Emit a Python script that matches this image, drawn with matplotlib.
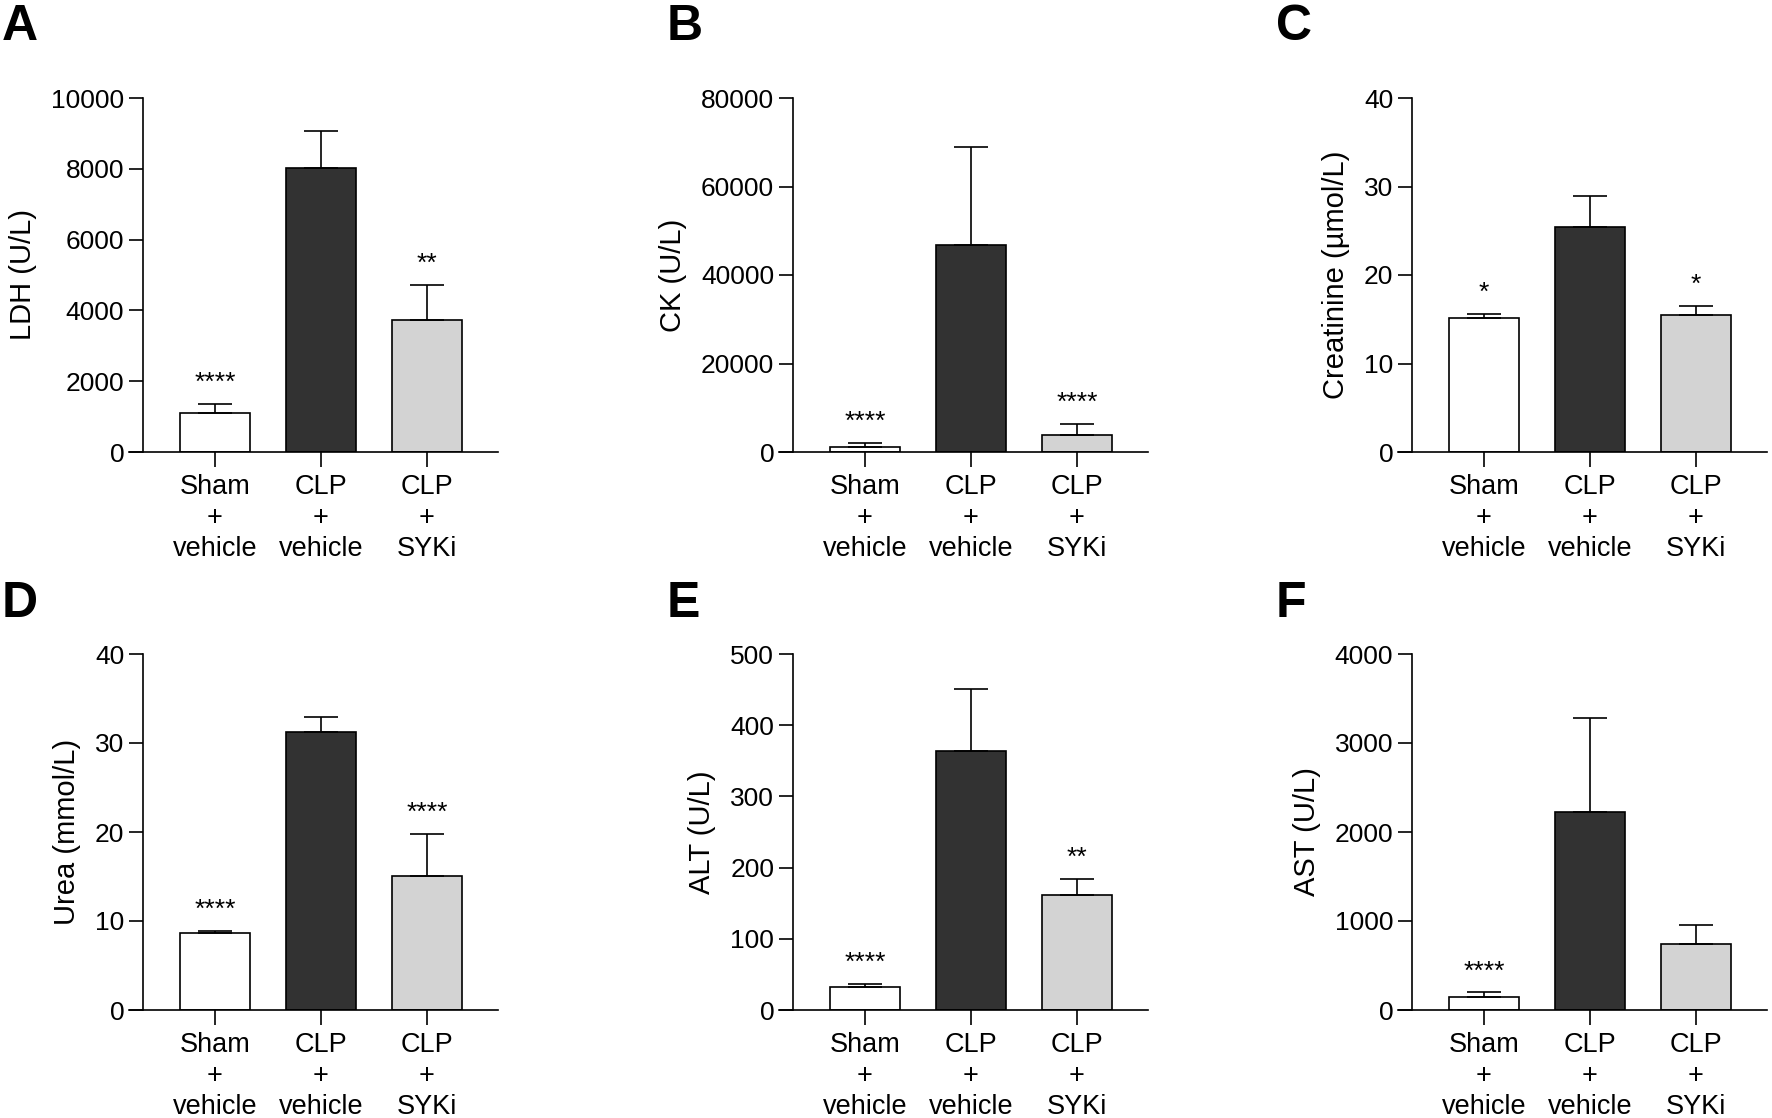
import numpy as np
import matplotlib
matplotlib.use('Agg')
import matplotlib.pyplot as plt

plt.rcParams['font.family'] = ['Liberation Sans', 'DejaVu Sans']

# groups shared by all six panels
groups = ['Sham\n+\nvehicle', 'CLP\n+\nvehicle', 'CLP\n+\nSYKi']
bar_colors = ['white', '#323232', '#d3d3d3']

# A - LDH
ldh_mean = [1090, 8010, 3740]
ldh_sem = [280, 1070, 980]
ldh_stars = ['****', '', '**']

# B - CK
ck_mean = [1200, 46700, 3900]
ck_sem = [900, 22200, 2400]
ck_stars = ['****', '', '****']

# C - creatinine
crea_mean = [15.1, 25.4, 15.5]
crea_sem = [0.5, 3.5, 1.0]
crea_stars = ['*', '', '*']

# D - urea
urea_mean = [8.6, 31.2, 15.1]
urea_sem = [0.3, 1.7, 4.7]
urea_stars = ['****', '', '****']

# E - ALT
alt_mean = [32, 364, 161]
alt_sem = [5, 87, 23]
alt_stars = ['****', '', '**']

# F - AST
ast_mean = [149, 2227, 740]
ast_sem = [48, 1057, 217]
ast_stars = ['****', '', '']

panels = [
    ('A', 'LDH (U/L)', ldh_mean, ldh_sem, ldh_stars, 10000, 2000),
    ('B', 'CK (U/L)', ck_mean, ck_sem, ck_stars, 80000, 20000),
    ('C', 'Creatinine (\u00b5mol/L)', crea_mean, crea_sem, crea_stars, 40, 10),
    ('D', 'Urea (mmol/L)', urea_mean, urea_sem, urea_stars, 40, 10),
    ('E', 'ALT (U/L)', alt_mean, alt_sem, alt_stars, 500, 100),
    ('F', 'AST (U/L)', ast_mean, ast_sem, ast_stars, 4000, 1000),
]

# layout in pixels
W, H = 1772, 1118
col_axis_px = [143, 793, 1412]
row_top_px = [98, 654]
row_zero_px = [452, 1010]
letter_x_px = [2, 667, 1276]
letter_base_px = [40, 617]
tick_px = 14
step_px = 106
first_px = 72
right_px = 355

fig = plt.figure(figsize=(W / 100, H / 100), dpi=100)

for k, (letter, ylab, mean, sem, stars, ymax, ystep) in enumerate(panels):
    r, c = divmod(k, 3)
    left = col_axis_px[c] - tick_px
    width = right_px + tick_px
    ax = fig.add_axes([left / W, 1 - row_zero_px[r] / H,
                       width / W, (row_zero_px[r] - row_top_px[r]) / H])
    x = np.arange(len(groups))
    ax.bar(x, mean, width=70 / step_px, color=bar_colors,
           edgecolor='black', linewidth=1.2, zorder=2)
    ax.errorbar(x, mean, yerr=[np.zeros(len(mean)), sem], fmt='none',
                ecolor='black', elinewidth=1.2, capsize=12.5, capthick=1.2,
                zorder=3)
    for i, s in enumerate(stars):
        if s:
            ax.annotate(s, (x[i], mean[i] + sem[i]), xytext=(0, 10),
                        textcoords='offset points', ha='center',
                        va='baseline', fontsize=19)

    ax.set_xlim(-(first_px + tick_px) / step_px, (right_px - first_px) / step_px)
    ax.set_ylim(0, ymax)
    ax.set_yticks(np.arange(0, ymax + ystep, ystep))
    ax.set_xticks(x)
    ax.set_xticklabels(groups, fontsize=19.5, linespacing=1.27)
    ax.tick_params(axis='y', labelsize=19, length=10, width=1.2, pad=3.5)
    ax.tick_params(axis='x', length=11, width=1.2, pad=4.5)
    ax.spines['top'].set_visible(False)
    ax.spines['right'].set_visible(False)
    ax.spines['left'].set_position(('data', -first_px / step_px))
    ax.spines['left'].set_linewidth(1.2)
    ax.spines['bottom'].set_linewidth(1.2)
    ax.set_ylabel(ylab, fontsize=21, labelpad=10)

    fig.text(letter_x_px[c] / W, 1 - letter_base_px[r] / H, letter,
             fontsize=36, fontweight='bold', ha='left', va='baseline')

fig.savefig('out.png', dpi=100)
